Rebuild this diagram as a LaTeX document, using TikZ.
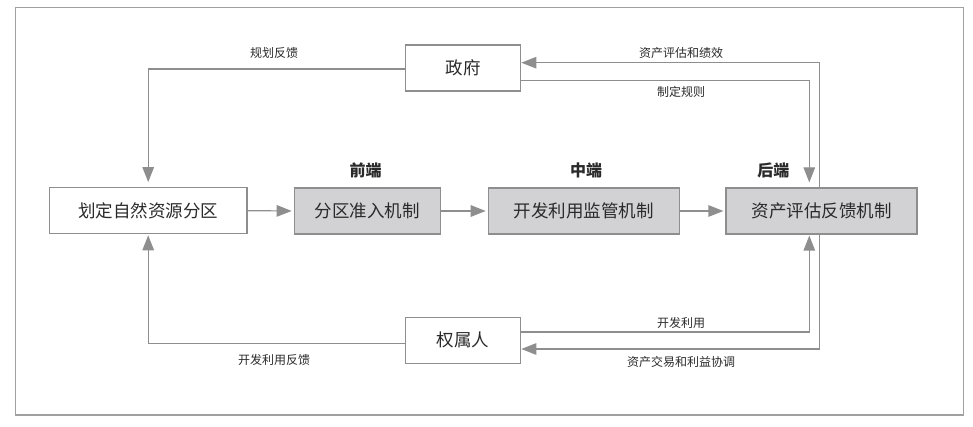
\documentclass[tikz,border=0pt]{standalone}
\usepackage{fontspec}
\setmainfont{Noto Sans CJK SC}
\usetikzlibrary{arrows.meta,positioning,calc}
\definecolor{linegray}{HTML}{8E8E8E}
\definecolor{boxgray}{HTML}{D2D2D4}
\definecolor{framegray}{HTML}{A0A0A0}
\definecolor{txt}{HTML}{2A2A2A}
\tikzset{
  box/.style={draw=linegray, line width=1.2pt, minimum height=46pt, inner sep=0pt, font=\fontsize{17.5}{20}\selectfont, text=txt},
  gbox/.style={box, fill=boxgray},
  arr/.style={draw=linegray, line width=1.2pt, -{Triangle[length=15pt,width=11.5pt]}},
  lab/.style={font=\fontsize{12}{14}\selectfont, text=txt, inner sep=0pt},
  hdr/.style={font=\bfseries\fontsize{16}{18}\selectfont, text=txt, inner sep=0pt}
}
\begin{document}
\begin{tikzpicture}[x=1pt,y=-1pt]
\useasboundingbox (0,0) rectangle (973,427);
\draw[framegray, line width=1.2pt] (15.3,7.5) rectangle (963.5,415);
\node[box, minimum width=115pt] (gov) at (463.2,68) {政府};
\node[box, minimum width=197.7pt] (zone) at (148.2,210.7) {划定自然资源分区};
\node[gbox, minimum width=146pt] (front) at (367.3,211) {分区准入机制};
\node[gbox, minimum width=191pt] (mid) at (583.8,211) {开发利用监管机制};
\node[gbox, minimum width=191pt] (back) at (821.5,211) {资产评估反馈机制};
\node[box, minimum width=115pt] (owner) at (463.2,340.2) {权属人};
\node[hdr] (h1) at (365.7,170) {前端};
\node[hdr] (h2) at (586,170) {中端};
\node[hdr] (h3) at (773.3,170) {后端};
\draw[arr, shorten >=2pt] (zone.east) -- (front.west);
\draw[arr, shorten >=2pt] (front.east) -- (mid.west);
\draw[arr, shorten >=2pt] (mid.east) -- (back.west);
\draw[arr, shorten >=5pt] ([yshift=-1pt]gov.west) -| (zone.north);
\draw[arr] ([xshift=-2.2pt]back.north) |- ([yshift=5.3pt]gov.east);
\draw[arr, shorten >=5pt] ([yshift=-12.7pt]gov.east) -| ([xshift=-12.2pt]back.north);
\draw[arr, shorten >=1pt] ([yshift=8.2pt]owner.east) -| ([xshift=-12.2pt]back.south);
\draw[arr] ([xshift=-2.2pt]back.south) |- ([yshift=-8.8pt]owner.east);
\draw[arr, shorten >=1pt] ([yshift=-3.5pt]owner.west) -| (zone.south);
\node[lab] (l1) at (274,52.7) {规划反馈};
\node[lab] (l2) at (681,52.7) {资产评估和绩效};
\node[lab] (l3) at (681,91.7) {制定规则};
\node[lab] (l4) at (681,323) {开发利用};
\node[lab] (l5) at (681,362) {资产交易和利益协调};
\node[lab] (l6) at (274,360) {开发利用反馈};
\end{tikzpicture}
\end{document}
